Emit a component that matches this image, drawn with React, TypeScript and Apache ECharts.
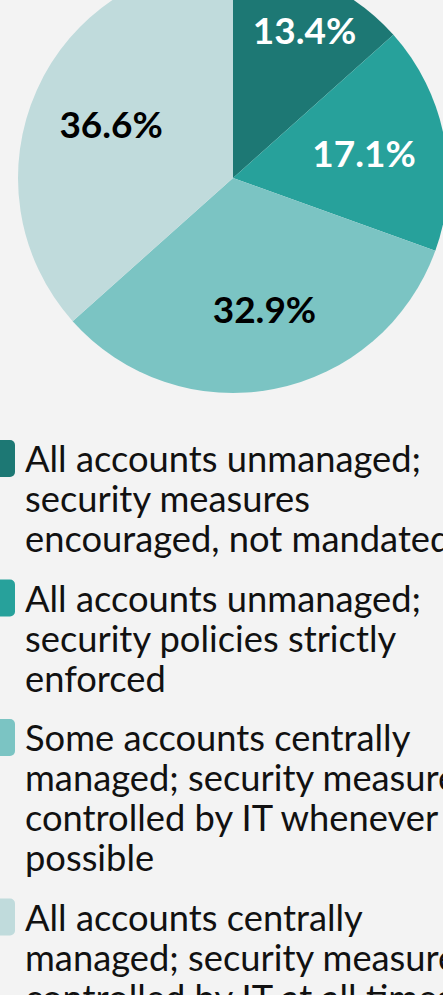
import React, { useEffect, useRef } from "react";
import * as echarts from "echarts";

const categories = [
  "All accounts unmanaged;\nsecurity measures\nencouraged, not mandated",
  "All accounts unmanaged;\nsecurity policies strictly\nenforced",
  "Some accounts centrally\nmanaged; security measures\ncontrolled by IT whenever\npossible",
  "All accounts centrally\nmanaged; security measures\ncontrolled by IT at all times",
];
const values = [13.4, 17.1, 32.9, 36.6];
const colors = ["#1D7874", "#27A19B", "#7BC4C3", "#C0DBDC"];
const labelColors = ["#FFFFFF", "#FFFFFF", "#000000", "#000000"];

export default function App() {
  const ref = useRef<HTMLDivElement>(null);
  useEffect(() => {
    if (!ref.current) return;
    const chart = echarts.init(ref.current, null, { renderer: "svg" });
    const legendItems: any[] = [];
    let top = 440;
    categories.forEach((c, i) => {
      const lines = c.split("\n").length;
      legendItems.push({
        type: "rect",
        shape: { x: -22, y: top, width: 37, height: 37, r: 5 },
        style: { fill: colors[i] },
      });
      legendItems.push({
        type: "text",
        x: 25,
        y: top - 2,
        style: {
          text: c,
          font: "36.3px Lato",
          fill: "#111111",
          lineHeight: 40,
          verticalAlign: "top",
          align: "left",
        },
      });
      top += lines * 40 + 19.5;
    });
    chart.setOption({
      animation: false,
      backgroundColor: "#F3F3F3",
      graphic: legendItems,
      series: [
        {
          type: "pie",
          center: [233, 178],
          radius: [0, 215],
          startAngle: 90,
          silent: true,
          label: { show: false },
          labelLine: { show: false },
          itemStyle: { borderWidth: 0 },
          data: values.map((v, i) => ({
            value: v,
            name: categories[i],
            itemStyle: { color: colors[i] },
          })),
        },
        {
          type: "pie",
          center: [233, 178],
          radius: [46, 215],
          startAngle: 90,
          silent: true,
          labelLine: { show: false },
          itemStyle: { color: "rgba(0,0,0,0)", borderWidth: 0 },
          label: {
            show: true,
            position: "inside",
            fontFamily: "Lato",
            fontWeight: "bold",
            fontSize: 37,
            formatter: (p: any) => p.value.toFixed(1) + "%",
          },
          data: values.map((v, i) => ({
            value: v,
            name: categories[i],
            label: {
              color: labelColors[i],
              ...(i === 0 ? { offset: [17, -27] } : {}),
              ...(i === 2 ? { offset: [6, -1] } : {}),
            },
          })),
        },
      ],
    });
    return () => chart.dispose();
  }, []);
  return (
    <div
      ref={ref}
      style={{ position: "fixed", left: 0, top: 0, width: 443, height: 995 }}
    />
  );
}
